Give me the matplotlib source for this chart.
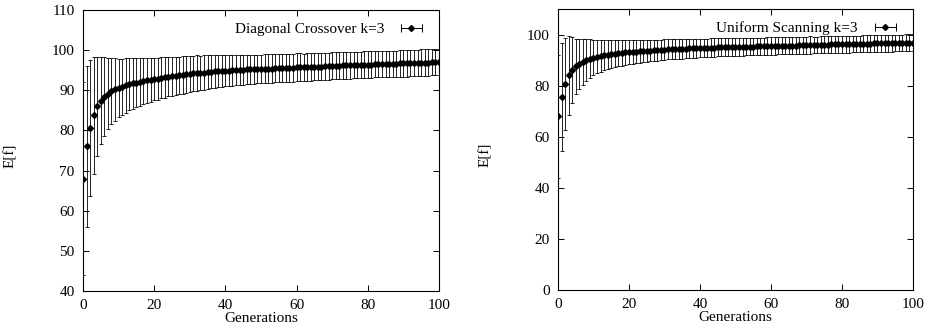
import matplotlib
matplotlib.use("Agg")
import matplotlib.pyplot as plt
from matplotlib.lines import Line2D
from matplotlib.legend_handler import HandlerLine2D, HandlerTuple

plt.rcParams['font.family'] = ['Liberation Serif', 'DejaVu Serif']
plt.rcParams['font.size'] = 11

# generations 0..100
generations = list(range(101))

# Diagonal Crossover k=3 : mean fitness and error
diag_mean = [
    68.0, 76.0, 80.6, 83.8, 86.0, 87.4, 88.4, 89.2, 89.8, 90.2, 90.6,
    90.9, 91.2, 91.5, 91.7, 91.9, 92.1, 92.3, 92.5, 92.6, 92.8,
    92.9, 93.1, 93.2, 93.4, 93.5, 93.6, 93.7, 93.8, 94.0, 94.1,
    94.2, 94.3, 94.3, 94.4, 94.5, 94.6, 94.7, 94.7, 94.8, 94.9,
    94.9, 95.0, 95.0, 95.1, 95.1, 95.2, 95.2, 95.2, 95.3, 95.3,
    95.4, 95.4, 95.4, 95.5, 95.5, 95.5, 95.6, 95.6, 95.6, 95.7,
    95.7, 95.7, 95.8, 95.8, 95.9, 95.9, 95.9, 96.0, 96.0, 96.1,
    96.1, 96.1, 96.2, 96.2, 96.2, 96.3, 96.3, 96.3, 96.4, 96.4,
    96.4, 96.5, 96.5, 96.5, 96.6, 96.6, 96.6, 96.6, 96.7, 96.7,
    96.7, 96.8, 96.8, 96.8, 96.9, 96.9, 96.9, 97.0, 97.0, 97.1,
]
diag_err = [
    24.0, 20.0, 17.0, 14.6, 12.4, 10.9, 9.8, 8.9, 8.3, 7.8, 7.3,
    7.0, 6.8, 6.5, 6.3, 6.1, 5.9, 5.7, 5.6, 5.4, 5.3,
    5.2, 5.1, 5.0, 4.9, 4.9, 4.8, 4.7, 4.7, 4.6, 4.5,
    4.4, 4.4, 4.3, 4.3, 4.2, 4.1, 4.1, 4.0, 4.0, 3.9,
    3.9, 3.9, 3.8, 3.8, 3.8, 3.7, 3.7, 3.7, 3.6, 3.6,
    3.6, 3.6, 3.6, 3.5, 3.5, 3.5, 3.5, 3.5, 3.5, 3.5,
    3.5, 3.4, 3.4, 3.4, 3.4, 3.4, 3.4, 3.4, 3.4, 3.4,
    3.4, 3.4, 3.3, 3.3, 3.3, 3.3, 3.3, 3.3, 3.3, 3.3,
    3.3, 3.3, 3.3, 3.3, 3.3, 3.3, 3.3, 3.3, 3.3, 3.3,
    3.3, 3.3, 3.3, 3.3, 3.3, 3.3, 3.3, 3.3, 3.3, 3.3,
]

# Uniform Scanning k=3
unif_mean = [
    68.0, 75.5, 80.7, 84.0, 86.2, 87.5, 88.6, 89.4, 90.1, 90.6, 91.0,
    91.3, 91.6, 91.9, 92.1, 92.3, 92.5, 92.7, 92.8, 93.0, 93.1,
    93.2, 93.3, 93.4, 93.5, 93.6, 93.7, 93.8, 93.9, 94.0, 94.1,
    94.2, 94.2, 94.3, 94.4, 94.4, 94.5, 94.6, 94.6, 94.7, 94.7,
    94.8, 94.8, 94.9, 94.9, 95.0, 95.0, 95.1, 95.1, 95.1, 95.2,
    95.2, 95.2, 95.3, 95.3, 95.3, 95.4, 95.4, 95.4, 95.5, 95.5,
    95.5, 95.6, 95.6, 95.6, 95.7, 95.7, 95.7, 95.8, 95.8, 95.8,
    95.9, 95.9, 95.9, 96.0, 96.0, 96.0, 96.1, 96.1, 96.1, 96.2,
    96.2, 96.2, 96.3, 96.3, 96.3, 96.4, 96.4, 96.4, 96.5, 96.5,
    96.5, 96.6, 96.6, 96.6, 96.7, 96.7, 96.7, 96.8, 96.8, 96.8,
]
unif_err = [
    24.0, 21.0, 18.0, 15.6, 13.0, 10.9, 9.8, 9.0, 8.2, 7.5, 6.8,
    6.5, 6.2, 5.9, 5.7, 5.5, 5.3, 5.1, 5.0, 4.8, 4.7,
    4.6, 4.5, 4.4, 4.3, 4.2, 4.2, 4.1, 4.1, 4.0, 4.0,
    3.9, 3.9, 3.9, 3.8, 3.8, 3.8, 3.7, 3.7, 3.7, 3.6,
    3.6, 3.6, 3.6, 3.6, 3.5, 3.5, 3.5, 3.5, 3.5, 3.5,
    3.5, 3.5, 3.5, 3.5, 3.5, 3.4, 3.4, 3.4, 3.4, 3.4,
    3.4, 3.4, 3.4, 3.4, 3.4, 3.4, 3.4, 3.4, 3.4, 3.4,
    3.4, 3.3, 3.3, 3.3, 3.3, 3.3, 3.3, 3.3, 3.3, 3.3,
    3.3, 3.3, 3.3, 3.3, 3.3, 3.3, 3.3, 3.3, 3.3, 3.3,
    3.3, 3.3, 3.3, 3.3, 3.3, 3.3, 3.3, 3.3, 3.3, 3.3,
]

left_yticks = [40, 50, 60, 70, 80, 90, 100, 110]
right_yticks = [0, 20, 40, 60, 80, 100]
xticks = [0, 20, 40, 60, 80, 100]

fig = plt.figure(figsize=(9.3, 3.28), dpi=100)
ax1 = fig.add_axes([0.0892, 0.1128, 0.3828, 0.8567])
ax2 = fig.add_axes([0.6, 0.1159, 0.3817, 0.8567])


def panel(ax, mean, err, label, ylim, yticks):
    ax.errorbar(generations, mean, yerr=err, fmt='D', ms=3.0, color='k',
                ecolor='k', elinewidth=0.6, capsize=1.6, capthick=0.6)
    ax.set_xlim(0, 100)
    ax.set_ylim(*ylim)
    ax.set_xticks(xticks)
    ax.set_yticks(yticks)
    ax.tick_params(direction='in', top=True, right=True, length=4,
                   width=0.7, labelsize=11, pad=6)
    for s in ax.spines.values():
        s.set_linewidth(0.8)
    ax.set_xlabel('Generations', labelpad=0)
    ax.set_ylabel('E[f]')
    ax.yaxis.set_label_coords(-0.185, 0.48)

    # gnuplot style key: horizontal bar with caps and a dot on it
    bar = Line2D([], [], color='k', lw=0.7, marker='|', ms=6, mew=0.7)
    dot = Line2D([], [], color='k', ls='none', marker='D', ms=3)
    ax.legend([(bar, dot)], [label], loc='upper right', frameon=False,
              markerfirst=False, numpoints=2, handlelength=2.0,
              borderaxespad=0.4, handletextpad=0.8, fontsize=11,
              handler_map={tuple: HandlerTuple(ndivide=1),
                           dot: HandlerLine2D(numpoints=1)})


panel(ax1, diag_mean, diag_err, 'Diagonal Crossover k=3', (40, 110), left_yticks)
panel(ax2, unif_mean, unif_err, 'Uniform Scanning k=3', (0, 110), right_yticks)

fig.savefig('out.png', dpi=100)
